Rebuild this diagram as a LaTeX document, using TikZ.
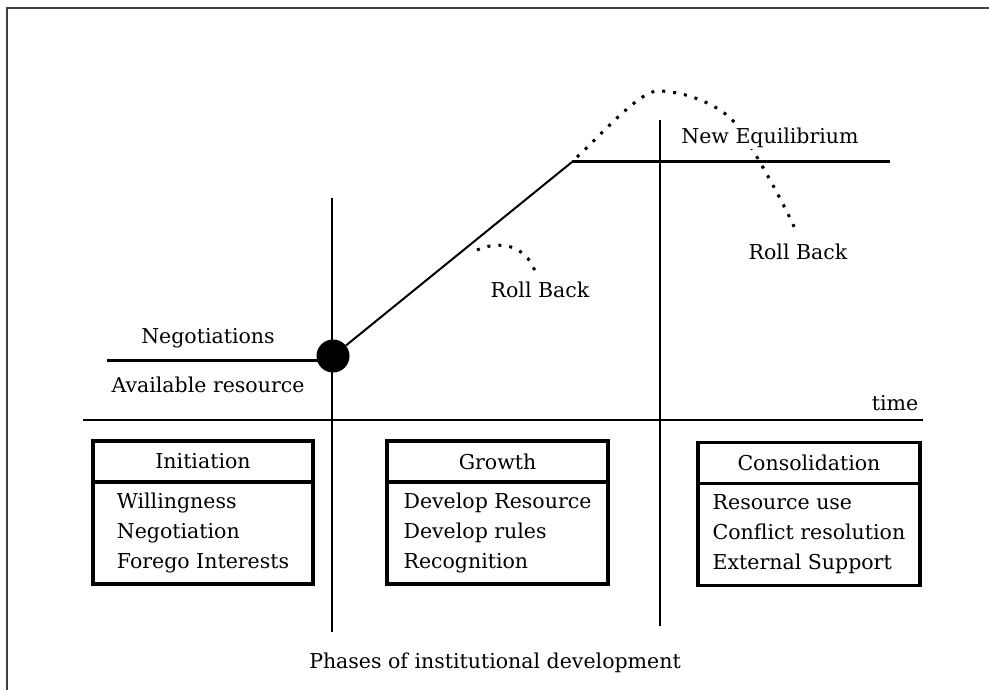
\documentclass[tikz,border=0pt]{standalone}
\usepackage{fontspec}
\setmainfont{DejaVu Serif}
\usetikzlibrary{positioning}

\begin{document}
\begin{tikzpicture}[x=1pt,y=-1pt,
  lbl/.style={font=\fontsize{20.5}{30}\selectfont, inner sep=1pt},
  head/.style={lbl, draw, line width=3.5pt, outer sep=0pt, inner sep=0pt, minimum width=#1, minimum height=41pt},
  items/.style={lbl, draw, line width=3.5pt, outer sep=0pt, inner sep=0pt, minimum width=#1, minimum height=102pt, align=left},
  axis/.style={line width=1.6pt},
  level/.style={line width=3pt},
  dots/.style={line width=3pt, dash pattern=on 3pt off 8pt}]
  \useasboundingbox (0,0) rectangle (989,690);
  \draw[line width=2.5pt, black!75] (989,8) -- (7,8) -- (7,690);

  \draw[dots] (577,157) .. controls (598,138) and (640,90) .. (658,91)
                        .. controls (685,91) and (720,105) .. (735,123)
                        .. controls (748,139) and (785,205) .. (795,229);
  \draw[dots] (477,250) .. controls (500,240) and (525,245) .. (535,271);

  \node[lbl, fill=white] (neweq) at (770,138) {New Equilibrium};
  \node[lbl] (rb2) at (798,252) {Roll Back};
  \node[lbl] (rb1) at (540,290) {Roll Back};
  \node[lbl] (nego) at (208,338) {Negotiations};
  \node[lbl] (avail) at (208,385) {Available resource};
  \node[lbl] (time) at (895,403) {time};
  \node[lbl] (phases) at (495,663) {Phases of institutional development};

  \coordinate (v1top) at (332,198);
  \coordinate (v1bot) at (332,632);
  \coordinate (v2top) at (660,120);
  \coordinate (v2bot) at (660,626);
  \coordinate (tleft) at (83,420);
  \coordinate (tright) at (923,420);
  \coordinate (negL) at (107,360);
  \coordinate (plateau) at (572,162);
  \coordinate (eqR) at (890,162);

  \draw[axis] (v1top) -- (v1bot);
  \draw[axis] (v2top) -- (v2bot);
  \draw[axis] (tleft) -- (tright);

  \node[circle, fill, minimum size=33pt, inner sep=0pt] (start) at (333,356) {};
  \draw[level] (negL) -- (negL -| start.center);
  \draw[line width=2pt] (start) -- (plateau);
  \draw[level] (plateau) -- (eqR);

  \node[head=220pt] (initT) at (203,461.5) {Initiation};
  \node[items=220pt, below=0pt of initT] (initL) {Willingness\\Negotiation\\Forego Interests};
  \node[head=221pt] (growT) at (497.5,461.5) {Growth};
  \node[items=221pt, below=0pt of growT] (growL) {Develop Resource\\Develop rules\\Recognition};
  \node[head=222pt] (consT) at (809,463) {Consolidation};
  \node[items=222pt, below=0pt of consT] (consL) {Resource use\\Conflict resolution\\External Support};
\end{tikzpicture}
\end{document}
